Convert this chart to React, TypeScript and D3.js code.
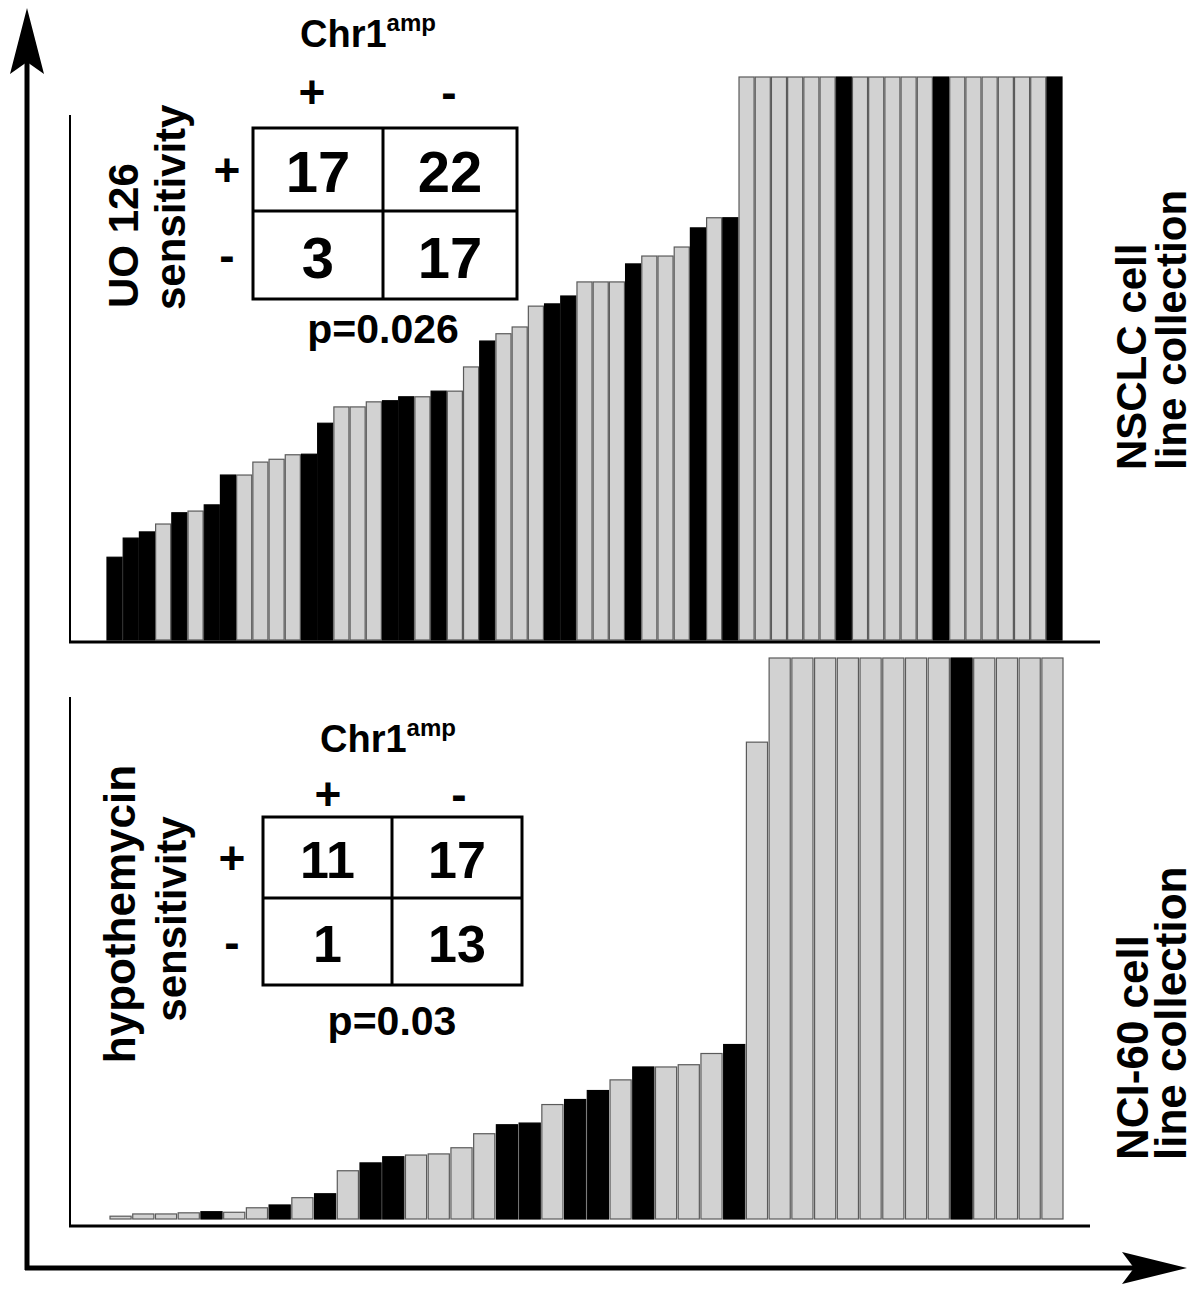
import React from 'react';
import * as d3 from 'd3';

// sensitivity ranking (relative bar height, 100 = insensitive / capped)
const topValues = [
  14.7, 18.1, 19.2, 20.6, 22.6, 22.9, 24.0, 29.3, 29.3, 31.6,
  32.1, 32.9, 33.0, 38.5, 41.4, 41.4, 42.3, 42.5, 43.2, 43.2,
  44.2, 44.2, 48.5, 53.1, 54.4, 55.6, 59.3, 59.7, 61.1, 63.6,
  63.6, 63.6, 66.8, 68.2, 68.2, 69.8, 73.2, 75.0, 75.0,
  100, 100, 100, 100, 100, 100, 100, 100, 100, 100,
  100, 100, 100, 100, 100, 100, 100, 100, 100, 100,
];
// 1 = Chr1amp+ (black), 0 = Chr1amp- (grey)
const topAmp = [
  1, 1, 1, 0, 1, 0, 1, 1, 0, 0,
  0, 0, 1, 1, 0, 0, 0, 1, 1, 0,
  1, 0, 0, 1, 0, 0, 0, 1, 1, 0,
  0, 0, 1, 0, 0, 0, 1, 0, 1,
  0, 0, 0, 0, 0, 0, 1, 0, 0, 0,
  0, 0, 1, 0, 0, 0, 0, 0, 0, 1,
];

const bottomValues = [
  0.5, 0.9, 0.9, 1.1, 1.3, 1.2, 2.0, 2.5, 3.8, 4.5,
  8.6, 10.0, 11.1, 11.4, 11.6, 12.7, 15.2, 16.8, 17.1, 20.4,
  21.3, 22.9, 24.8, 27.1, 27.1, 27.5, 29.5, 31.1, 85.0,
  100, 100, 100, 100, 100, 100, 100, 100, 100, 100, 100, 100, 100,
];
const bottomAmp = [
  0, 0, 0, 0, 1, 0, 0, 1, 0, 1,
  0, 1, 1, 0, 0, 0, 0, 1, 1, 0,
  1, 1, 0, 1, 0, 0, 0, 1, 0,
  0, 0, 0, 0, 0, 0, 0, 0, 1, 0, 0, 0, 0,
];

const topTable = [[17, 22], [3, 17]];
const bottomTable = [[11, 17], [1, 13]];
const topP = 'p=0.026';
const bottomP = 'p=0.03';

const FONT = '"Liberation Sans", Arial, sans-serif';
const GREY = '#d2d2d2';

const Bars = ({ values, amp, x0, x1, yBase, yTop }) => {
  const x = d3.scaleBand().domain(values.map((_, i) => i)).range([x0, x1]).paddingInner(0.07);
  const y = d3.scaleLinear().domain([0, 100]).range([yBase, yTop]);
  return (
    <g>
      {values.map((v, i) => (
        <rect
          key={i}
          x={x(i)}
          y={y(v)}
          width={x.bandwidth()}
          height={yBase - y(v)}
          fill={amp[i] ? '#000' : GREY}
          stroke={amp[i] ? '#000' : '#5a5a5a'}
          strokeWidth={1.2}
        />
      ))}
    </g>
  );
};

const Table = ({ counts, p, box, colX, headY, chrX, chrY, rowX, numSize, pY }) => {
  const cols = [box.x, box.cx, box.x + box.w];
  const rows = [box.y, box.cy, box.y + box.h];
  return (
    <g fontFamily={FONT} fontWeight="bold" fill="#000">
      <text x={chrX} y={chrY} fontSize={38}>
        Chr1<tspan fontSize={24} dy={-16}>amp</tspan>
      </text>
      <text x={colX[0]} y={headY} fontSize={46} textAnchor="middle" dominantBaseline="central">+</text>
      <text x={colX[1]} y={headY} fontSize={46} textAnchor="middle" dominantBaseline="central">-</text>
      <text x={rowX} y={(rows[0] + rows[1]) / 2} fontSize={46} textAnchor="middle" dominantBaseline="central">+</text>
      <text x={rowX} y={(rows[1] + rows[2]) / 2} fontSize={46} textAnchor="middle" dominantBaseline="central">-</text>
      <rect x={box.x} y={box.y} width={box.w} height={box.h} fill="#fff" stroke="#000" strokeWidth={3} />
      <line x1={box.cx} x2={box.cx} y1={box.y} y2={box.y + box.h} stroke="#000" strokeWidth={3} />
      <line x1={box.x} x2={box.x + box.w} y1={box.cy} y2={box.cy} stroke="#000" strokeWidth={3} />
      {counts.map((row, r) =>
        row.map((n, c) => (
          <text
            key={`${r}-${c}`}
            x={(cols[c] + cols[c + 1]) / 2}
            y={(rows[r] + rows[r + 1]) / 2 + 2}
            fontSize={numSize}
            textAnchor="middle"
            dominantBaseline="central"
          >
            {n}
          </text>
        ))
      )}
      <text x={box.cx} y={pY} fontSize={41} textAnchor="middle">{p}</text>
    </g>
  );
};

const VLabel = ({ x, y, anchor = 'start', size = 42, children }) => (
  <text
    transform={`translate(${x},${y}) rotate(-90)`}
    fontFamily={FONT}
    fontWeight="bold"
    fontSize={size}
    textAnchor={anchor}
  >
    {children}
  </text>
);

export default function App() {
  return (
    <svg
      width={1199}
      height={1292}
      style={{ position: 'absolute', left: 0, top: 0, background: '#fff' }}
    >
      {/* main arrows */}
      <line x1={27} x2={27} y1={1270} y2={55} stroke="#000" strokeWidth={5} />
      <path d="M27,8 L44,74 L27,62 L10,74 Z" fill="#000" />
      <line x1={25} x2={1140} y1={1268} y2={1268} stroke="#000" strokeWidth={5} />
      <path d="M1187,1268 L1122,1252 L1134,1268 L1122,1284 Z" fill="#000" />

      {/* top panel */}
      <Bars values={topValues} amp={topAmp} x0={107} x1={1062} yBase={640} yTop={77} />
      <line x1={70} x2={70} y1={115} y2={642} stroke="#000" strokeWidth={2} />
      <line x1={69} x2={1100} y1={642} y2={642} stroke="#000" strokeWidth={3} />
      <Table
        counts={topTable}
        p={topP}
        box={{ x: 253, y: 128, w: 264, h: 171, cx: 383, cy: 211 }}
        colX={[312, 449]}
        headY={92}
        chrX={300}
        chrY={47}
        rowX={227}
        numSize={58}
        pY={343}
      />
      <VLabel x={138} y={308}>UO 126</VLabel>
      <VLabel x={185} y={310}>sensitivity</VLabel>
      <VLabel x={1146} y={470}>NSCLC cell</VLabel>
      <VLabel x={1186} y={470}>line collection</VLabel>

      {/* bottom panel */}
      <Bars values={bottomValues} amp={bottomAmp} x0={110} x1={1063} yBase={1219} yTop={658} />
      <line x1={70} x2={70} y1={697} y2={1227} stroke="#000" strokeWidth={2} />
      <line x1={69} x2={1090} y1={1226} y2={1226} stroke="#000" strokeWidth={3} />
      <Table
        counts={bottomTable}
        p={bottomP}
        box={{ x: 263, y: 817, w: 259, h: 168, cx: 392, cy: 898 }}
        colX={[328, 459]}
        headY={794}
        chrX={320}
        chrY={752}
        rowX={232}
        numSize={52}
        pY={1035}
      />
      <VLabel x={135} y={914} anchor="middle" size={44}>hypothemycin</VLabel>
      <VLabel x={186} y={919} anchor="middle">sensitivity</VLabel>
      <VLabel x={1148} y={1160} size={44}>NCI-60 cell</VLabel>
      <VLabel x={1186} y={1160} size={44}>line collection</VLabel>
    </svg>
  );
}
